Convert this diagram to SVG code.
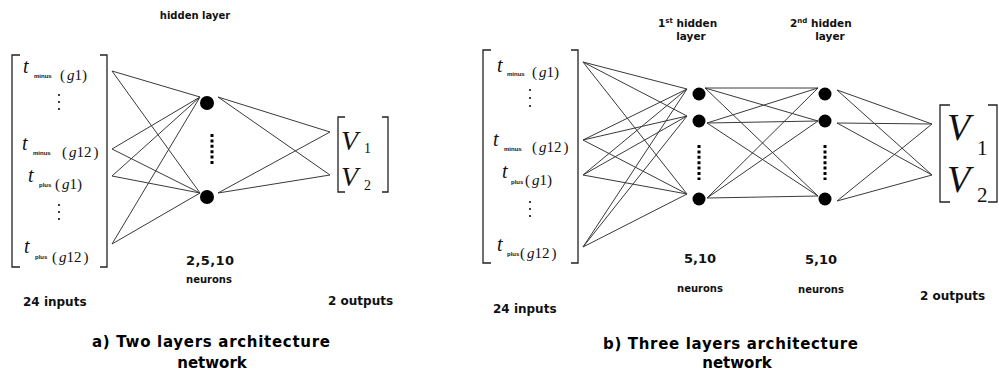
<svg xmlns="http://www.w3.org/2000/svg" width="999" height="376" viewBox="0 0 999 376">
<style>
.lbl{font-family:"DejaVu Sans","Liberation Sans",sans-serif;font-weight:bold;fill:#111}
.ttl{font-family:"DejaVu Sans","Liberation Sans",sans-serif;font-weight:bold;fill:#000;font-size:15px}
.m{font-family:"Liberation Serif","Times New Roman",serif;fill:#111}
.it{font-style:italic}
.sub{font-family:"Liberation Sans",sans-serif;font-size:6px;font-weight:bold;fill:#111}
.br{fill:none;stroke:#222;stroke-width:1.3}
.conn line{stroke:#3a3a3a;stroke-width:1}
.nd{fill:#000}
.vd{stroke:#000;stroke-width:3;stroke-dasharray:3 2.4}
.dot{fill:#111}
</style>
<rect width="999" height="376" fill="#fff"/>

<!-- ===== (a) Two layers ===== -->
<g id="a-connectors" class="conn">
  <line x1="112" y1="71" x2="200" y2="97"/>
  <line x1="112" y1="71" x2="200" y2="193"/>
  <line x1="112" y1="149" x2="200" y2="97"/>
  <line x1="112" y1="149" x2="200" y2="193"/>
  <line x1="112" y1="176" x2="200" y2="97"/>
  <line x1="112" y1="176" x2="200" y2="193"/>
  <line x1="112" y1="244" x2="200" y2="97"/>
  <line x1="112" y1="244" x2="200" y2="193"/>
  <line x1="218" y1="97" x2="330" y2="132"/>
  <line x1="218" y1="97" x2="330" y2="175"/>
  <line x1="218" y1="193" x2="330" y2="132"/>
  <line x1="218" y1="193" x2="330" y2="175"/>
</g>

<g id="a-inputs">
  <path class="br" d="M20,55 H12 V267 H20"/>
  <path class="br" d="M100,55 H107 V267 H100"/>
  <text class="m it" x="23" y="73" font-size="20">t</text>
  <text class="sub" x="34" y="78">minus</text>
  <text class="m" x="60" y="80" font-size="15">(<tspan class="it" dx="2">g</tspan>1)</text>
  <circle class="dot" cx="59" cy="95" r="1.1"/><circle class="dot" cx="59" cy="102" r="1.1"/><circle class="dot" cx="59" cy="109" r="1.1"/>
  <text class="m it" x="22" y="150" font-size="20">t</text>
  <text class="sub" x="33" y="155">minus</text>
  <text class="m" x="62" y="157" font-size="15">(<tspan class="it" dx="2">g</tspan>12<tspan dx="2">)</tspan></text>
  <text class="m it" x="28" y="182" font-size="20">t</text>
  <text class="sub" x="39" y="187">plus</text>
  <text class="m" x="55" y="189" font-size="15">(<tspan class="it" dx="2">g</tspan>1)</text>
  <circle class="dot" cx="59" cy="205" r="1.1"/><circle class="dot" cx="59" cy="212" r="1.1"/><circle class="dot" cx="59" cy="219" r="1.1"/>
  <text class="m it" x="24" y="253" font-size="20">t</text>
  <text class="sub" x="35" y="259">plus</text>
  <text class="m" x="52" y="262" font-size="15">(<tspan class="it" dx="2">g</tspan>12<tspan dx="2">)</tspan></text>
</g>

<g id="a-hidden1"><circle class="nd" cx="207" cy="103" r="7"/></g>
<g id="a-hidden2"><circle class="nd" cx="207" cy="197" r="7"/></g>
<g id="a-hidden-dots"><line class="vd" x1="212" y1="134" x2="212" y2="164"/></g>

<g id="a-outputs">
  <path class="br" d="M345,117 H338 V192 H345"/>
  <path class="br" d="M382,117 H388 V192 H382"/>
  <text class="m it" x="341" y="150" font-size="28">V</text>
  <text class="m" x="364" y="153" font-size="14">1</text>
  <text class="m it" x="341" y="186" font-size="28">V</text>
  <text class="m" x="364" y="190" font-size="14">2</text>
</g>

<g id="a-labels">
  <text class="lbl" x="195" y="19" font-size="10" text-anchor="middle">hidden layer</text>
  <text class="lbl" x="210" y="265" font-size="13" text-anchor="middle" textLength="48" lengthAdjust="spacing">2,5,10</text>
  <text class="lbl" x="209" y="283" font-size="10" text-anchor="middle">neurons</text>
  <text class="lbl" x="23" y="306" font-size="12">24 inputs</text>
  <text class="lbl" x="328" y="305" font-size="12">2 outputs</text>
  <text class="ttl" x="92" y="347" textLength="238" lengthAdjust="spacing">a) Two layers architecture</text>
  <text class="ttl" x="212" y="368" text-anchor="middle">network</text>
</g>

<!-- ===== (b) Three layers ===== -->
<g id="b-connectors" class="conn">
  <line x1="583" y1="62" x2="687" y2="89"/>
  <line x1="583" y1="62" x2="687" y2="116"/>
  <line x1="583" y1="62" x2="687" y2="194"/>
  <line x1="583" y1="140" x2="687" y2="89"/>
  <line x1="583" y1="140" x2="687" y2="116"/>
  <line x1="583" y1="140" x2="687" y2="194"/>
  <line x1="583" y1="175" x2="687" y2="89"/>
  <line x1="583" y1="175" x2="687" y2="116"/>
  <line x1="583" y1="175" x2="687" y2="194"/>
  <line x1="583" y1="247" x2="687" y2="89"/>
  <line x1="583" y1="247" x2="687" y2="116"/>
  <line x1="583" y1="247" x2="687" y2="194"/>
  <line x1="705" y1="88" x2="818" y2="88"/>
  <line x1="705" y1="88" x2="818" y2="121"/>
  <line x1="705" y1="88" x2="818" y2="196"/>
  <line x1="707" y1="123" x2="818" y2="88"/>
  <line x1="707" y1="123" x2="818" y2="121"/>
  <line x1="707" y1="123" x2="818" y2="196"/>
  <line x1="707" y1="198" x2="818" y2="88"/>
  <line x1="707" y1="198" x2="818" y2="121"/>
  <line x1="707" y1="198" x2="818" y2="196"/>
  <line x1="837" y1="90" x2="932" y2="124"/>
  <line x1="837" y1="90" x2="932" y2="175"/>
  <line x1="837" y1="123" x2="932" y2="124"/>
  <line x1="837" y1="123" x2="932" y2="175"/>
  <line x1="837" y1="201" x2="932" y2="124"/>
  <line x1="837" y1="201" x2="932" y2="175"/>
</g>

<g id="b-inputs">
  <path class="br" d="M491,50 H483 V263 H491"/>
  <path class="br" d="M571,50 H578 V263 H571"/>
  <text class="m it" x="497" y="72" font-size="20">t</text>
  <text class="sub" x="507" y="76">minus</text>
  <text class="m" x="532" y="77" font-size="15">(<tspan class="it" dx="2">g</tspan>1)</text>
  <circle class="dot" cx="530" cy="90" r="1.1"/><circle class="dot" cx="530" cy="98" r="1.1"/><circle class="dot" cx="530" cy="106" r="1.1"/>
  <text class="m it" x="493" y="146" font-size="20">t</text>
  <text class="sub" x="504" y="151">minus</text>
  <text class="m" x="532" y="152" font-size="15">(<tspan class="it" dx="2">g</tspan>12<tspan dx="2">)</tspan></text>
  <text class="m it" x="502" y="178" font-size="20">t</text>
  <text class="sub" x="511" y="184">plus</text>
  <text class="m" x="525" y="185" font-size="15">(<tspan class="it" dx="2">g</tspan>1)</text>
  <circle class="dot" cx="530" cy="202" r="1.1"/><circle class="dot" cx="530" cy="209" r="1.1"/><circle class="dot" cx="530" cy="216" r="1.1"/>
  <text class="m it" x="497" y="251" font-size="20">t</text>
  <text class="sub" x="507" y="256">plus</text>
  <text class="m" x="520" y="258" font-size="15">(<tspan class="it" dx="2">g</tspan>12<tspan dx="2">)</tspan></text>
</g>

<g id="b-h1-n1"><circle class="nd" cx="699" cy="94" r="6.5"/></g>
<g id="b-h1-n2"><circle class="nd" cx="699" cy="121" r="6.5"/></g>
<g id="b-h1-n3"><circle class="nd" cx="699" cy="199" r="6.5"/></g>
<g id="b-h1-dots"><line class="vd" x1="699" y1="145" x2="699" y2="180"/></g>
<g id="b-h2-n1"><circle class="nd" cx="825" cy="94" r="6.5"/></g>
<g id="b-h2-n2"><circle class="nd" cx="825" cy="121" r="6.5"/></g>
<g id="b-h2-n3"><circle class="nd" cx="825" cy="199" r="6.5"/></g>
<g id="b-h2-dots"><line class="vd" x1="825" y1="145" x2="825" y2="180"/></g>

<g id="b-outputs">
  <path class="br" d="M950,105 H940 V202 H950"/>
  <path class="br" d="M988,105 H997 V202 H988"/>
  <text class="m it" x="947" y="140" font-size="38">V</text>
  <text class="m" x="977" y="155" font-size="21">1</text>
  <text class="m it" x="947" y="192" font-size="38">V</text>
  <text class="m" x="977" y="202" font-size="21">2</text>
</g>

<g id="b-labels">
  <text class="lbl" x="658" y="27" font-size="10.5">1<tspan font-size="7" dy="-4">st</tspan><tspan dy="4"> hidden</tspan></text>
  <text class="lbl" x="691" y="40" font-size="10.5" text-anchor="middle">layer</text>
  <text class="lbl" x="790" y="27" font-size="10.5">2<tspan font-size="7" dy="-4">nd</tspan><tspan dy="4"> hidden</tspan></text>
  <text class="lbl" x="830" y="40" font-size="10.5" text-anchor="middle">layer</text>
  <text class="lbl" x="700" y="263" font-size="13" text-anchor="middle">5,10</text>
  <text class="lbl" x="821" y="264" font-size="13" text-anchor="middle">5,10</text>
  <text class="lbl" x="700" y="292" font-size="10" text-anchor="middle">neurons</text>
  <text class="lbl" x="821" y="293" font-size="10" text-anchor="middle">neurons</text>
  <text class="lbl" x="493" y="313" font-size="12">24 inputs</text>
  <text class="lbl" x="920" y="300" font-size="12">2 outputs</text>
  <text class="ttl" x="603" y="349" textLength="255" lengthAdjust="spacing">b) Three layers architecture</text>
  <text class="ttl" x="737" y="368" text-anchor="middle">network</text>
</g>
</svg>
